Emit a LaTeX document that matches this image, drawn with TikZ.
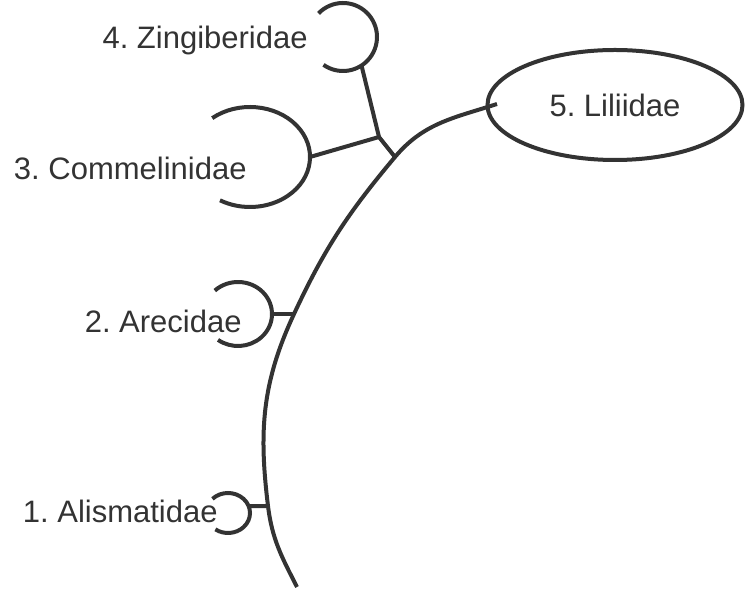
\documentclass[tikz,border=0pt]{standalone}
\usepackage{fontspec}
\setmainfont{Liberation Sans}
\usetikzlibrary{shapes.geometric, calc}
\definecolor{ink}{HTML}{333333}
\frenchspacing

\begin{document}
\begin{tikzpicture}[
  x=0.5pt, y=-0.5pt,
  taxon/.style={anchor=base east, inner sep=0pt, text=ink,
    font=\fontsize{15.5}{18}\selectfont},
  clade/.style={ellipse, draw=ink, line width=2pt, minimum width=127.5pt,
    minimum height=55pt, inner sep=0pt, text=ink, font=\fontsize{15.5}{18}\selectfont},
  br/.style={draw=ink, line width=2pt},
]
  \useasboundingbox (0,0) rectangle (745,592);

  \node[clade] (lil) at (615,105) {5. Liliidae};
  \node[taxon] (zinL) at (308,49) {4. Zingiberidae};
  \node[taxon] (comL) at (247,180) {3. Commelinidae};
  \node[taxon] (areL) at (242,333) {2. Arecidae};
  \node[taxon] (aliL) at (218,523) {1. Alismatidae};

  % cup centres and where the branches leave them
  \coordinate (zinC) at (343,37);
  \coordinate (comC) at (250,157);
  \coordinate (areC) at (238,314);
  \coordinate (aliC) at (228,513);
  \coordinate (zin) at ($(zinC)+(57:34)$);
  \coordinate (com) at ($(comC)+(60,0)$);
  \coordinate (are) at ($(areC)+(34,0)$);
  \coordinate (ali) at ($(aliC)+(20.7,-6.8)$);

  % points on the stem
  \coordinate (s0) at (297,587);
  \coordinate (s1) at (268,506);
  \coordinate (s2) at (294,314);
  \coordinate (s3) at (395,157);
  \coordinate (s4) at (497,104);
  \coordinate (fork) at (379,137);

  \draw[br] (zinC) ++(-136:34) arc[start angle=-136, end angle=125, radius=34];
  \draw[br] (comC) ++(-129:60 and 50) arc[start angle=-129, end angle=120, x radius=60, y radius=50];
  \draw[br] (areC) ++(-133:34 and 32) arc[start angle=-133, end angle=126, x radius=34, y radius=32];
  \draw[br] (aliC) ++(-135:22 and 20) arc[start angle=-135, end angle=125, x radius=22, y radius=20];

  \draw[br] (s0) to[out=117, in=-83] (s1) to[out=97, in=-115] (s2)
    to[out=65, in=-130] (s3) to[out=50, in=-162] (s4);

  \draw[br] (zin) -- (fork);
  \draw[br] (com) -- (fork);
  \draw[br] (fork) -- (s3);
  \draw[br] (are) -- (s2);
  \draw[br] (ali) -- (s1);
\end{tikzpicture}
\end{document}
